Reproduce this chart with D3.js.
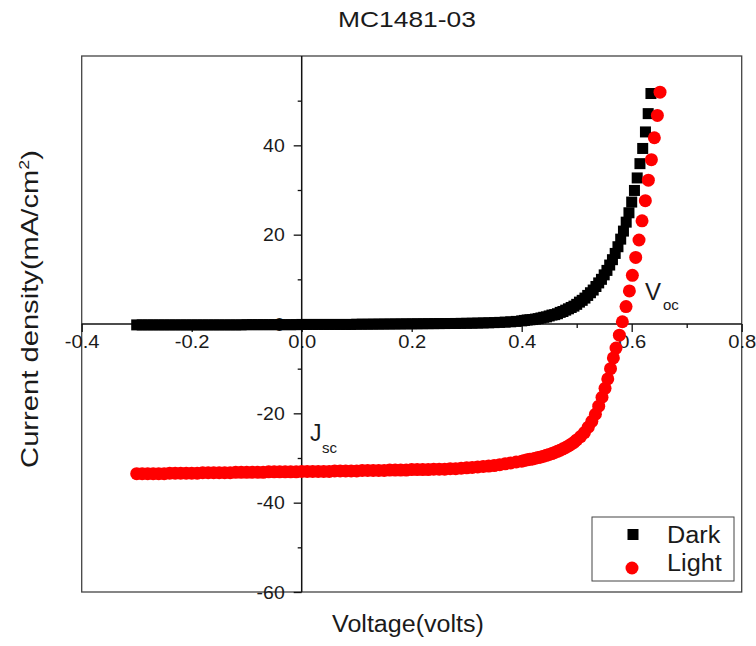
<!DOCTYPE html>
<html><head><meta charset="utf-8">
<script src="https://cdn.jsdelivr.net/npm/d3@7"></script>
<style>body{margin:0;background:#fff}svg{display:block}text{font-family:"Liberation Sans",Arial,sans-serif;fill:#1a1a1a}</style>
</head><body><svg id="c" width="756" height="646"></svg>
<script>
const title = "MC1481-03";
const xLabel = "Voltage(volts)";
const xMajorTicks = [-0.4, -0.2, 0.0, 0.2, 0.4, 0.6, 0.8];
const xTickLabels = ["-0.4", "-0.2", "0.0", "0.2", "0.4", "0.6", "0.8"];
const xMinorTicks = [-0.3, -0.1, 0.1, 0.3, 0.5, 0.7];
const yMajorTicks = [-60, -40, -20, 0, 20, 40];
const yTickLabels = ["-60", "-40", "-20", "0", "20", "40"];
const yMinorTicks = [-50, -30, -10, 10, 30, 50];
const seriesNames = ["Dark", "Light"];

const darkV = [-0.30,-0.29,-0.28,-0.27,-0.26,-0.25,-0.24,-0.23,-0.22,-0.21,-0.20,-0.19,-0.18,-0.17,-0.16,-0.15,-0.14,-0.13,-0.12,-0.11,
 -0.10,-0.09,-0.08,-0.07,-0.06,-0.05,-0.04,-0.03,-0.02,-0.01,0.00,0.01,0.02,0.03,0.04,0.05,0.06,0.07,0.08,0.09,
 0.10,0.11,0.12,0.13,0.14,0.15,0.16,0.17,0.18,0.19,0.20,0.21,0.22,0.23,0.24,0.25,0.26,0.27,0.28,0.29,
 0.30,0.31,0.32,0.33,0.34,0.35,0.36,0.37,0.38,0.39,
 0.400,0.405,0.410,0.415,0.420,0.425,0.430,0.435,0.440,0.445,0.450,0.455,0.460,0.465,0.470,0.475,0.480,0.485,0.490,0.495,
 0.500,0.505,0.510,0.515,0.520,0.525,0.530,0.535,0.540,0.545,0.550,0.555,0.560,0.565,0.570,0.575,0.580,0.585,0.590,0.595,
 0.600,0.605,0.610,0.615,0.620,0.625,0.630,0.635];
const darkJ = [-0.2,-0.2,-0.2,-0.2,-0.2,-0.2,-0.2,-0.2,-0.2,-0.2,-0.2,-0.2,-0.2,-0.2,-0.2,-0.2,-0.2,-0.2,-0.2,-0.2,
 -0.15,-0.15,-0.15,-0.15,-0.15,-0.15,-0.15,-0.15,-0.15,-0.15,-0.1,-0.1,-0.1,-0.1,-0.1,-0.1,-0.1,-0.1,-0.1,-0.1,
 -0.05,-0.05,-0.04,-0.03,-0.02,-0.01,0.0,0.01,0.02,0.03,0.04,0.05,0.06,0.07,0.08,0.09,0.10,0.11,0.12,0.14,
 0.16,0.18,0.21,0.24,0.27,0.31,0.36,0.42,0.49,0.58,
 0.7,0.8,0.9,0.95,1.0,1.1,1.2,1.35,1.5,1.6,1.8,2.0,2.1,2.3,2.6,2.8,3.1,3.4,3.7,4.0,
 4.4,4.9,5.3,5.8,6.4,7.0,7.6,8.4,9.2,10.0,11.0,12.0,13.2,14.4,15.8,17.3,19.0,20.8,22.8,24.9,
 27.3,29.9,32.7,35.9,39.3,43.0,47.1,51.6];

const lightV = [-0.30,-0.29,-0.28,-0.27,-0.26,-0.25,-0.24,-0.23,-0.22,-0.21,-0.20,-0.19,-0.18,-0.17,-0.16,-0.15,-0.14,-0.13,-0.12,-0.11,
 -0.10,-0.09,-0.08,-0.07,-0.06,-0.05,-0.04,-0.03,-0.02,-0.01,0.00,0.01,0.02,0.03,0.04,0.05,0.06,0.07,0.08,0.09,
 0.10,0.11,0.12,0.13,0.14,0.15,0.16,0.17,0.18,0.19,0.20,0.21,0.22,0.23,0.24,0.25,0.26,0.27,0.28,0.29,
 0.30,0.31,0.32,0.33,0.34,0.35,0.36,0.37,0.38,0.39,
 0.400,0.405,0.410,0.415,0.420,0.425,0.430,0.435,0.440,0.445,0.450,0.455,0.460,0.465,0.470,0.475,0.480,0.485,0.490,0.495,
 0.500,0.507,0.514,0.521,0.5275,0.534,0.540,0.546,0.5515,0.5565,0.5615,0.5667,0.5715,0.5776,0.5830,0.5897,0.5958,0.6012,
 0.6073,0.6133,0.6188,0.6248,0.6303,0.6358,0.6412,0.6467,0.6515];
const lightJ = [-33.5,-33.5,-33.5,-33.5,-33.5,-33.5,-33.4,-33.4,-33.4,-33.4,-33.4,-33.4,-33.3,-33.3,-33.3,-33.3,-33.3,-33.3,-33.2,-33.2,
 -33.2,-33.2,-33.2,-33.2,-33.1,-33.1,-33.1,-33.1,-33.1,-33.1,-33.0,-33.0,-33.0,-33.0,-33.0,-33.0,-32.9,-32.9,-32.9,-32.9,
 -32.9,-32.8,-32.8,-32.8,-32.8,-32.8,-32.7,-32.7,-32.7,-32.7,-32.6,-32.6,-32.6,-32.6,-32.5,-32.5,-32.5,-32.4,-32.4,-32.3,
 -32.2,-32.1,-32.0,-31.9,-31.8,-31.7,-31.5,-31.3,-31.1,-30.9,
 -30.7,-30.55,-30.4,-30.3,-30.2,-30.05,-29.9,-29.75,-29.6,-29.4,-29.2,-29.0,-28.75,-28.5,-28.25,-27.95,-27.65,-27.3,-26.9,-26.5,
 -25.95,-25.2,-24.3,-23.1,-21.8,-20.2,-18.4,-16.4,-14.4,-12.3,-10.0,-7.6,-5.4,-2.5,0.5,3.9,7.4,10.9,
 14.9,18.8,23.1,27.6,32.2,36.8,41.7,46.7,51.9];

const svg = d3.select("#c");
const x = d3.scaleLinear().domain([-0.4, 0.8]).range([81.7, 741.7]);
const y = d3.scaleLinear().domain([-60, 60]).range([592, 56]);

function stretch(sel, k){ sel.each(function(){ const w=this.getComputedTextLength(); this.setAttribute("textLength", w*k); this.setAttribute("lengthAdjust","spacingAndGlyphs"); }); return sel; }

// frame
svg.append("rect").attr("x", x(-0.4)).attr("y", y(60)).attr("width", x(0.8)-x(-0.4)).attr("height", y(-60)-y(60))
  .attr("fill","none").attr("stroke","#444").attr("stroke-width",1.3);

// x axis (through J=0)
const gx = svg.append("g").attr("transform", `translate(0,${y(0)})`);
gx.call(d3.axisBottom(x).tickValues(xMajorTicks).tickSize(8).tickSizeOuter(0).tickFormat((d,i)=>xTickLabels[i]));
gx.select(".domain").remove();
gx.selectAll(".tick line").attr("stroke","#111").attr("stroke-width",1.3);
gx.selectAll(".tick text").attr("y", 24).attr("dy", 0).style("font-size","18px").attr("fill","#1a1a1a")
  .style("font-family",'"Liberation Sans",Arial,sans-serif');
stretch(gx.selectAll(".tick text"), 1.12);
const gxm = svg.append("g").attr("transform", `translate(0,${y(0)})`);
gxm.call(d3.axisBottom(x).tickValues(xMinorTicks).tickSize(4).tickSizeOuter(0).tickFormat(""));
gxm.select(".domain").remove();
gxm.selectAll(".tick line").attr("stroke","#111").attr("stroke-width",1.3);

// y axis (through V=0)
const gy = svg.append("g").attr("transform", `translate(${x(0)},0)`);
gy.call(d3.axisLeft(y).tickValues(yMajorTicks).tickSize(8).tickSizeOuter(0).tickFormat((d,i)=>yTickLabels[i]));
gy.select(".domain").remove();
gy.selectAll(".tick line").attr("stroke","#111").attr("stroke-width",1.3);
gy.selectAll(".tick text").attr("x", -17).attr("dy","0.35em").style("font-size","18px").attr("fill","#1a1a1a")
  .style("font-family",'"Liberation Sans",Arial,sans-serif');
stretch(gy.selectAll(".tick text"), 1.08);
const gym = svg.append("g").attr("transform", `translate(${x(0)},0)`);
gym.call(d3.axisLeft(y).tickValues(yMinorTicks).tickSize(4).tickSizeOuter(0).tickFormat(""));
gym.select(".domain").remove();
gym.selectAll(".tick line").attr("stroke","#111").attr("stroke-width",1.3);

// zero lines
svg.append("line").attr("x1", x(-0.4)).attr("x2", x(0.8)).attr("y1", y(0)).attr("y2", y(0)).attr("stroke","#111").attr("stroke-width",1.5);
svg.append("line").attr("x1", x(0)).attr("x2", x(0)).attr("y1", y(60)).attr("y2", y(-60)).attr("stroke","#111").attr("stroke-width",1.5);

// data
const sq = 11;
svg.append("g").selectAll("rect").data(darkV.map((v,i)=>[v,darkJ[i]])).join("rect")
  .attr("x", d=>x(d[0])-sq/2).attr("y", d=>y(d[1])-sq/2).attr("width", sq).attr("height", sq).attr("fill","#000");
svg.append("g").selectAll("circle").data(lightV.map((v,i)=>[v,lightJ[i]])).join("circle")
  .attr("cx", d=>x(d[0])).attr("cy", d=>y(d[1])).attr("r", 6.5).attr("fill","#ff0000");

// title & labels
stretch(svg.append("text").attr("x", 407).attr("y", 27).attr("text-anchor","middle").style("font-size","22px").text(title), 1.2);
stretch(svg.append("text").attr("x", 408).attr("y", 632).attr("text-anchor","middle").style("font-size","23px").text(xLabel), 1.09);
const yl = svg.append("text").attr("text-anchor","middle").style("font-size","23px");
yl.append("tspan").text("Current density(mA/cm");
yl.append("tspan").attr("dy",-9).style("font-size","14px").text("2");
yl.append("tspan").attr("dy",9).text(")");
const ylw = yl.node().getBBox().width;
yl.attr("transform", `translate(38,309) rotate(-90) scale(${318/ylw},1)`);

// annotations
svg.append("text").attr("x",310).attr("y",441).style("font-size","23px").text("J");
svg.append("text").attr("x",322).attr("y",453).style("font-size","15px").text("sc");
svg.append("text").attr("x",645).attr("y",300).style("font-size","24px").text("V");
svg.append("text").attr("x",663).attr("y",310).style("font-size","15px").text("oc");

// legend
svg.append("rect").attr("x",592).attr("y",517).attr("width",142).attr("height",64).attr("fill","#fff").attr("stroke","#444").attr("stroke-width",1);
svg.append("rect").attr("x",633-5.5).attr("y",534.5-5.5).attr("width",11).attr("height",11).attr("fill","#000");
svg.append("circle").attr("cx",632).attr("cy",568).attr("r",6.5).attr("fill","#ff0000");
stretch(svg.append("text").attr("x",667).attr("y",543).style("font-size","23px").text(seriesNames[0]), 1.1);
stretch(svg.append("text").attr("x",667).attr("y",571).style("font-size","23px").text(seriesNames[1]), 1.1);
</script></body></html>
